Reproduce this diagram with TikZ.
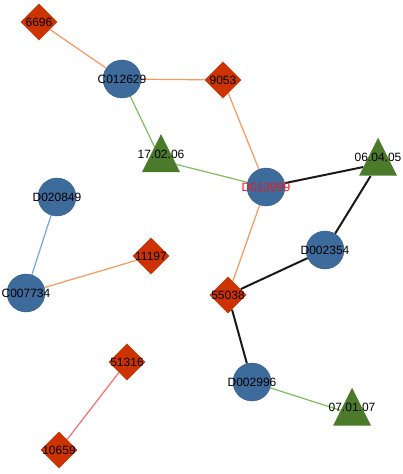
\documentclass[tikz,border=0pt]{standalone}
\usepackage{fontspec}
\setmainfont{Liberation Sans}
\usepackage{tikz}
\usetikzlibrary{shapes.geometric,backgrounds}
\usepackage{xcolor}
\definecolor{circfill}{RGB}{61,107,156}
\definecolor{diafill}{RGB}{204,51,0}
\definecolor{trifill}{RGB}{74,122,42}
\definecolor{eorange}{RGB}{247,152,92}
\definecolor{egreen}{RGB}{124,190,92}
\definecolor{eblue}{RGB}{112,168,222}
\definecolor{epink}{RGB}{240,112,112}
\definecolor{lblred}{RGB}{240,20,30}
\newcommand{\lbl}[1]{\makebox[0pt][c]{#1}}

\begin{document}
\begin{tikzpicture}[x=1pt, y=-1pt,
  circ/.style={circle, fill=circfill, draw=circfill!85!black, minimum size=38pt, inner sep=0pt, font=\fontsize{12}{12}\selectfont},
  dia/.style={diamond, fill=diafill, minimum width=37pt, minimum height=37pt, inner sep=0pt, font=\fontsize{12}{12}\selectfont},
  tri/.style={isosceles triangle, shape border rotate=90, isosceles triangle stretches, fill=trifill, minimum width=38pt, minimum height=38pt, inner sep=0pt,
    label={[font=\fontsize{12}{12}\selectfont, inner sep=0pt, yshift=6.5pt]center:\lbl{#1}}},
  orange/.style={eorange, line width=1.2pt},
  green/.style={egreen, line width=1.2pt},
  blue/.style={eblue, line width=1.2pt},
  pink/.style={epink, line width=1.2pt},
  dark/.style={black!90, line width=2pt}
]
  \useasboundingbox (0,0) rectangle (403,474);

  \node[dia] (n6696) at (39,22) {\lbl{6696}};
  \node[circ] (c012629) at (122,79) {\lbl{C012629}};
  \node[dia] (n9053) at (223,80) {\lbl{9053}};
  \node[tri=17.02.06] (t170206) at (161,160.5) {};
  \node[circ] (d013999) at (266,187) {\lbl{\textcolor{lblred}{D013999}}};
  \node[tri=06.04.05] (t060405) at (378,164) {};
  \node[circ] (d002354) at (325,250) {\lbl{D002354}};
  \node[dia] (n55038) at (228,295) {\lbl{55038}};
  \node[circ] (d020849) at (57,197) {\lbl{D020849}};
  \node[circ] (c007734) at (26,293) {\lbl{C007734}};
  \node[dia] (n11197) at (151,256) {\lbl{11197}};
  \node[dia] (n51316) at (127,362) {\lbl{51316}};
  \node[dia] (n10659) at (59,450) {\lbl{10659}};
  \node[circ] (d002996) at (252,382) {\lbl{D002996}};
  \node[tri=07.01.07] (t070107) at (352,414) {};

  \begin{scope}[on background layer]
  \draw[orange] (n6696) -- (c012629);
  \draw[orange] (c012629) -- (n9053);
  \draw[green] (c012629) -- (t170206);
  \draw[green] (t170206) -- (d013999);
  \draw[orange] (n9053) -- (d013999);
  \draw[dark] (d013999) -- (t060405);
  \draw[dark] (t060405) -- (d002354);
  \draw[dark] (d002354) -- (n55038);
  \draw[orange] (n55038) -- (d013999);
  \draw[dark] (n55038) -- (d002996);
  \draw[green] (d002996) -- (t070107);
  \draw[blue] (d020849) -- (c007734);
  \draw[orange] (c007734) -- (n11197);
  \draw[pink] (n51316) -- (n10659);
  \end{scope}
\end{tikzpicture}
\end{document}
